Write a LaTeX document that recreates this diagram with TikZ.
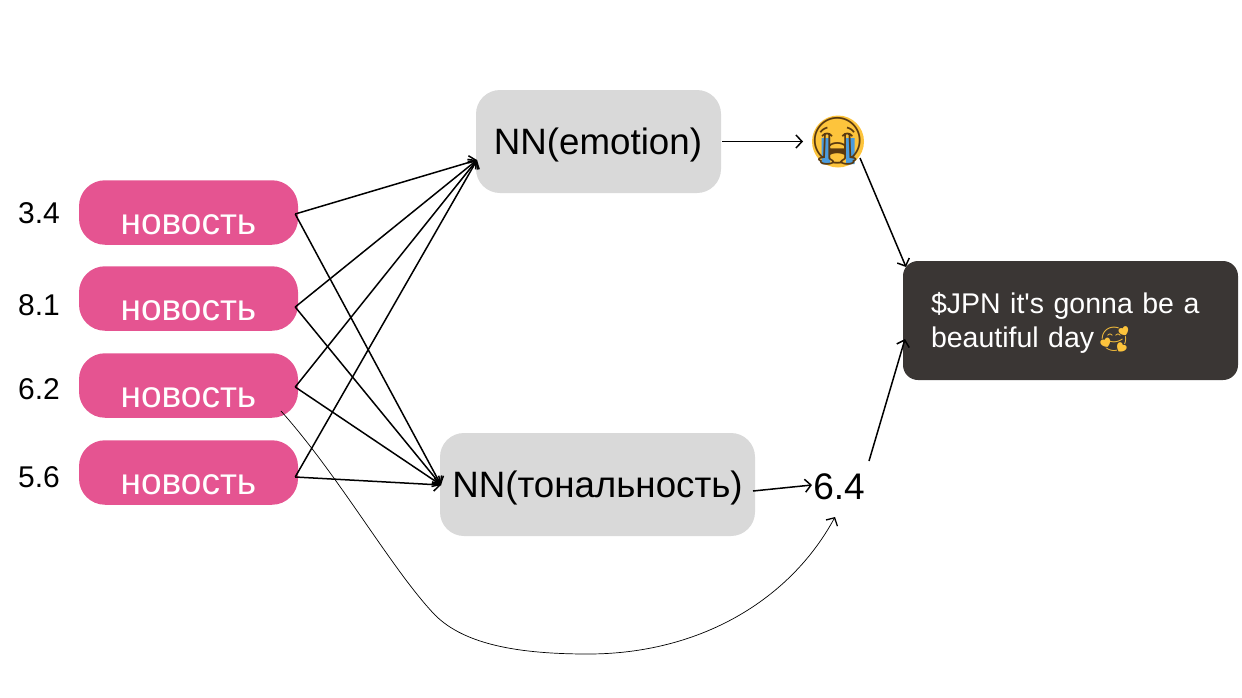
\documentclass[tikz,border=0pt]{standalone}
\usepackage{fontspec}
\setmainfont{Liberation Sans}
\newfontfamily\emojifont{Noto Emoji}
\usetikzlibrary{arrows.meta}
\definecolor{newspink}{HTML}{E55491}
\definecolor{nngray}{HTML}{D9D9D9}
\definecolor{tweetdark}{HTML}{3A3634}
\definecolor{emojiyellow}{HTML}{FDC43C}
\definecolor{emojiblue}{HTML}{4A9BDD}
\definecolor{emojibrown}{HTML}{5A3A10}
\tikzset{
  >={Straight Barb[length=6pt,width=13pt]},
  news/.style={fill=newspink,rounded corners=26,minimum width=219,minimum height=64.5,inner sep=0},
  newstext/.style={text=white,font=\fontsize{37}{44}\selectfont},
  score/.style={font=\fontsize{30}{36}\selectfont},
  nnbox/.style={fill=nngray,rounded corners=24,minimum height=103,inner sep=0},
  nntext/.style={font=\fontsize{36.7}{44}\selectfont},
  tweet/.style={fill=tweetdark,rounded corners=15,minimum width=335,minimum height=119,inner sep=0},
  tweettext/.style={inner sep=0,text=white,align=left,text width=279,font=\fontsize{28.5}{34}\selectfont},
  link/.style={->,line width=1.5},
}
\begin{document}
\begin{tikzpicture}[x=1pt,y=-1pt]
  \useasboundingbox (0,0) rectangle (1242,697);
  \node [nnbox,minimum width=245] (emotion) at (598.5,141.5) {};
  \node [nntext] (emotiontext) at (598,145) {NN(emotion)};
  \node [nnbox,minimum width=315] (tone) at (597.5,484.5) {};
  \node [nntext] (tonetext) at (597.5,488) {NN(тональность)};
  \node [tweet] (result) at (1070.5,320.5) {};
  \node [tweettext] (resulttext) at (1070.5,322.5) {\$JPN it\textquotesingle s gonna be a\\beautiful day\hspace{5pt}{\emojifont\fontsize{24}{24}\selectfont\color{emojiyellow}🥰}};
  \node [circle,fill=emojiyellow,minimum size=52,inner sep=0] (crying) at (838,141.5) {};
  \fill [emojiblue] (821.5,138) rectangle (830,164) (846,138) rectangle (854.5,164);
  \node [inner sep=0,text=emojibrown,font=\emojifont\fontsize{46}{46}\selectfont] (cryingface) at (838,141.5) {😭};
  \node [font=\fontsize{37}{44}\selectfont] (mixed) at (839,487) {6.4};
  \coordinate (emotionin) at (477,160);
  \coordinate (tonein) at (441,485);
  % the news column
  \foreach \i/\y/\val/\shifty/\valy in {1/212.5/3.4/1.5/213,2/298.5/8.1/8.5/305,3/385.5/6.2/1.5/389,4/472.5/5.6/4.5/477} {
    \node [news] (news\i) at (188.5,\y) {};
    \node [newstext] (title\i) at (188.5,\y+12) {новость};
    \node [score,anchor=west,inner sep=0] (val\i) at (18,\valy) {\val};
    \draw [link] ([shift={(-3,\shifty)}]news\i.east) -- (emotionin);
    \draw [link] ([shift={(-3,\shifty)}]news\i.east) -- (tonein);
  }
  \draw [link] (emotion.east) ++(1,0) -- (803,141.5);
  \draw [link] (860,158) -- (906,267);
  \draw [link] (753,491) -- (812,485);
  \draw [link] (869,461) -- (905,339);
  \coordinate (newsout) at (281,411);
  \coordinate (mixedin) at (835,517);
  \draw [-{Straight Barb[length=6pt,width=13pt,line width=1.3]},line width=0.7] (newsout) .. controls (340,477) and (392,570) .. (435,615)
    .. controls (465,645) and (520,654) .. (588,654)
    .. controls (700,654) and (790,600) .. (mixedin);
\end{tikzpicture}
\end{document}
